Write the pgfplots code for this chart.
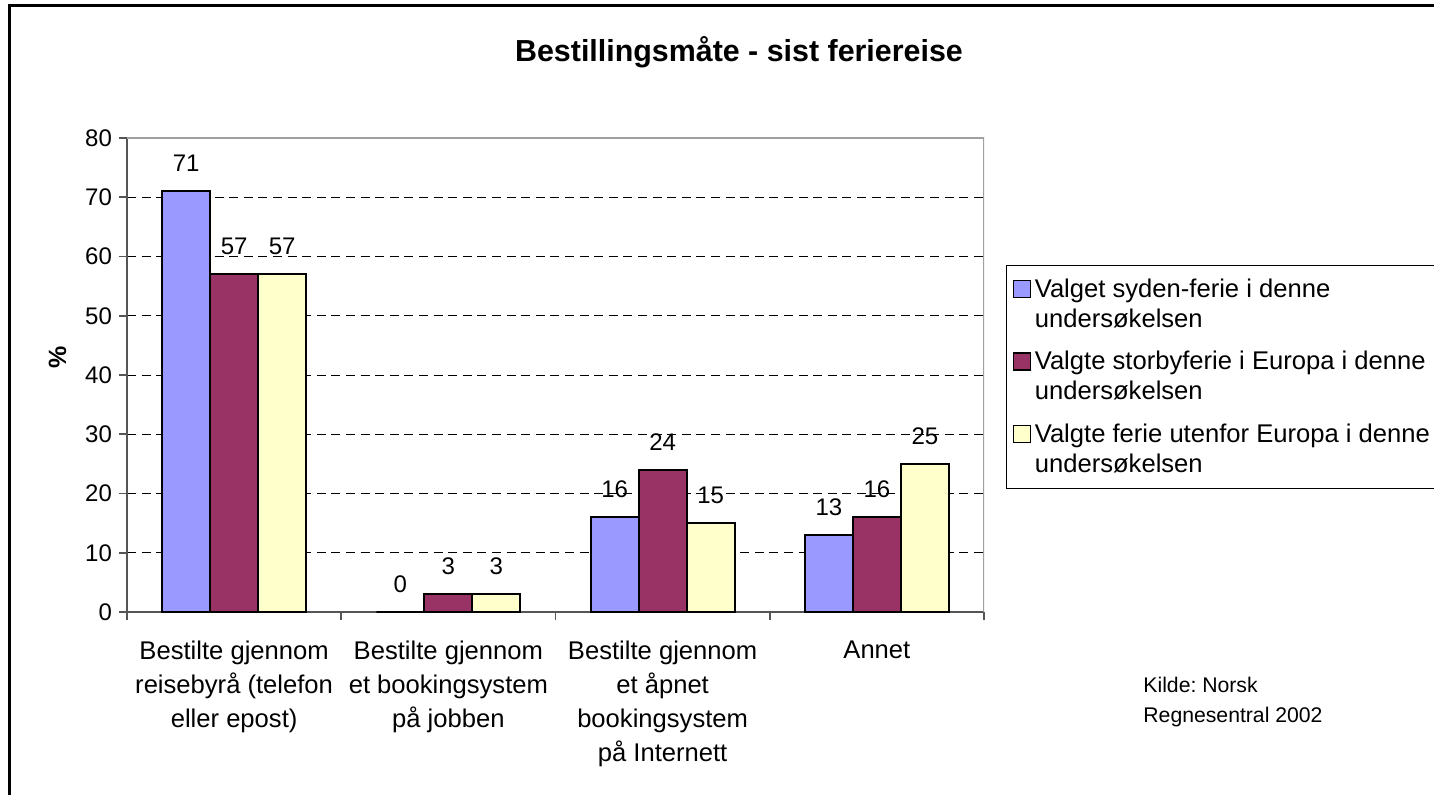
\documentclass[border=0pt]{standalone}
\usepackage{fontspec}
\setmainfont{Liberation Sans}
\usepackage{pgfplots}
\pgfplotsset{compat=1.18}
\definecolor{sblue}{HTML}{9999FF}
\definecolor{spurple}{HTML}{993366}
\definecolor{syellow}{HTML}{FFFFCC}
\definecolor{axisgray}{HTML}{555555}
\definecolor{bordergray}{HTML}{A0A0A0}
\pgfplotsset{sqlegend/.style={legend image code/.code={\draw[##1, draw=black, line width=0.6pt] (0pt,3.5pt) rectangle (8.5pt,12pt);}}}
\frenchspacing
\begin{document}
\begin{tikzpicture}
\useasboundingbox (0,0) rectangle (717pt,397pt);
\fill[white] (0,0) rectangle (717pt,397pt);
\draw[line width=1.2pt] (4.75pt,-5pt) -- (4.75pt,394.25pt) -- (730pt,394.25pt);
\node[anchor=base, inner sep=0pt, font=\bfseries\fontsize{15.2}{18}\selectfont] at (369.5pt,366pt) {Bestillingsmåte - sist feriereise};
\node[anchor=base west, inner sep=0pt, font=\fontsize{10.6}{12}\selectfont] at (571.5pt,51pt) {Kilde: Norsk};
\node[anchor=base west, inner sep=0pt, font=\fontsize{10.6}{12}\selectfont] at (571.5pt,36pt) {Regnesentral 2002};
\begin{axis}[
  at={(63.5pt,91pt)}, anchor=south west,
  scale only axis, width=428.5pt, height=237pt,
  ybar=0pt, bar width=24pt,
  xmin=-0.5, xmax=3.5, ymin=0, ymax=80,
  axis x line*=bottom, axis y line*=left,
  axis line style={draw=axisgray, line width=0.9pt},
  xtick={0,1,2,3},
  xticklabels={{Bestilte gjennom\\reisebyrå (telefon\\eller epost)},{Bestilte gjennom\\et bookingsystem\\på jobben},{Bestilte gjennom\\et åpnet\\bookingsystem\\på Internett},{Annet}},
  xticklabel style={align=center, font=\fontsize{12.8}{17}\selectfont, anchor=north, yshift=-7pt},
  major x tick style={draw=none},
  minor xtick={-0.5,0.5,1.5,2.5,3.5},
  minor x tick style={draw=axisgray, line width=0.9pt},
  major y tick style={draw=axisgray, line width=0.9pt},
  tick align=outside,
  minor tick length=4pt, major tick length=4pt,
  ytick={10,20,...,70},
  extra y ticks={0,80},
  extra y tick style={grid=none},
  ymajorgrids,
  major grid style={black, line width=0.5pt, dash pattern=on 4.5pt off 2.8pt},
  /pgf/number format/assume math mode=true,
  yticklabel style={font=\fontsize{12}{14}\selectfont},
  ylabel={\%},
  every axis y label/.style={at={(axis description cs:-0.0811,0.538)}, rotate=90, anchor=center, font=\bfseries\fontsize{12.5}{15}\selectfont},
  nodes near coords,
  every node near coord/.append style={font=\fontsize{12}{14}\selectfont, yshift=6pt, black},
  legend style={at={(1.0257,0.7321)}, anchor=north west, draw=black, line width=0.6pt, inner ysep=4.5pt,
    font=\fontsize{12.8}{15}\selectfont, cells={anchor=west}, nodes={align=left}, row sep=6.5pt},
]
\addplot[fill=sblue, draw=black, line width=0.9pt, sqlegend] coordinates {(0,71) (1,0) (2,16) (3,13)};
\addlegendentry{Valget syden-ferie i denne\\undersøkelsen}
\addplot[fill=spurple, draw=black, line width=0.9pt, sqlegend] coordinates {(0,57) (1,3) (2,24) (3,16)};
\addlegendentry{Valgte storbyferie i Europa i denne\\undersøkelsen}
\addplot[fill=syellow, draw=black, line width=0.9pt, sqlegend] coordinates {(0,57) (1,3) (2,15) (3,25)};
\addlegendentry{Valgte ferie utenfor Europa i denne\\undersøkelsen}
\draw[bordergray, line width=0.9pt] (rel axis cs:0,1) -- (rel axis cs:1,1) -- (rel axis cs:1,0);
\end{axis}
\end{tikzpicture}
\end{document}
